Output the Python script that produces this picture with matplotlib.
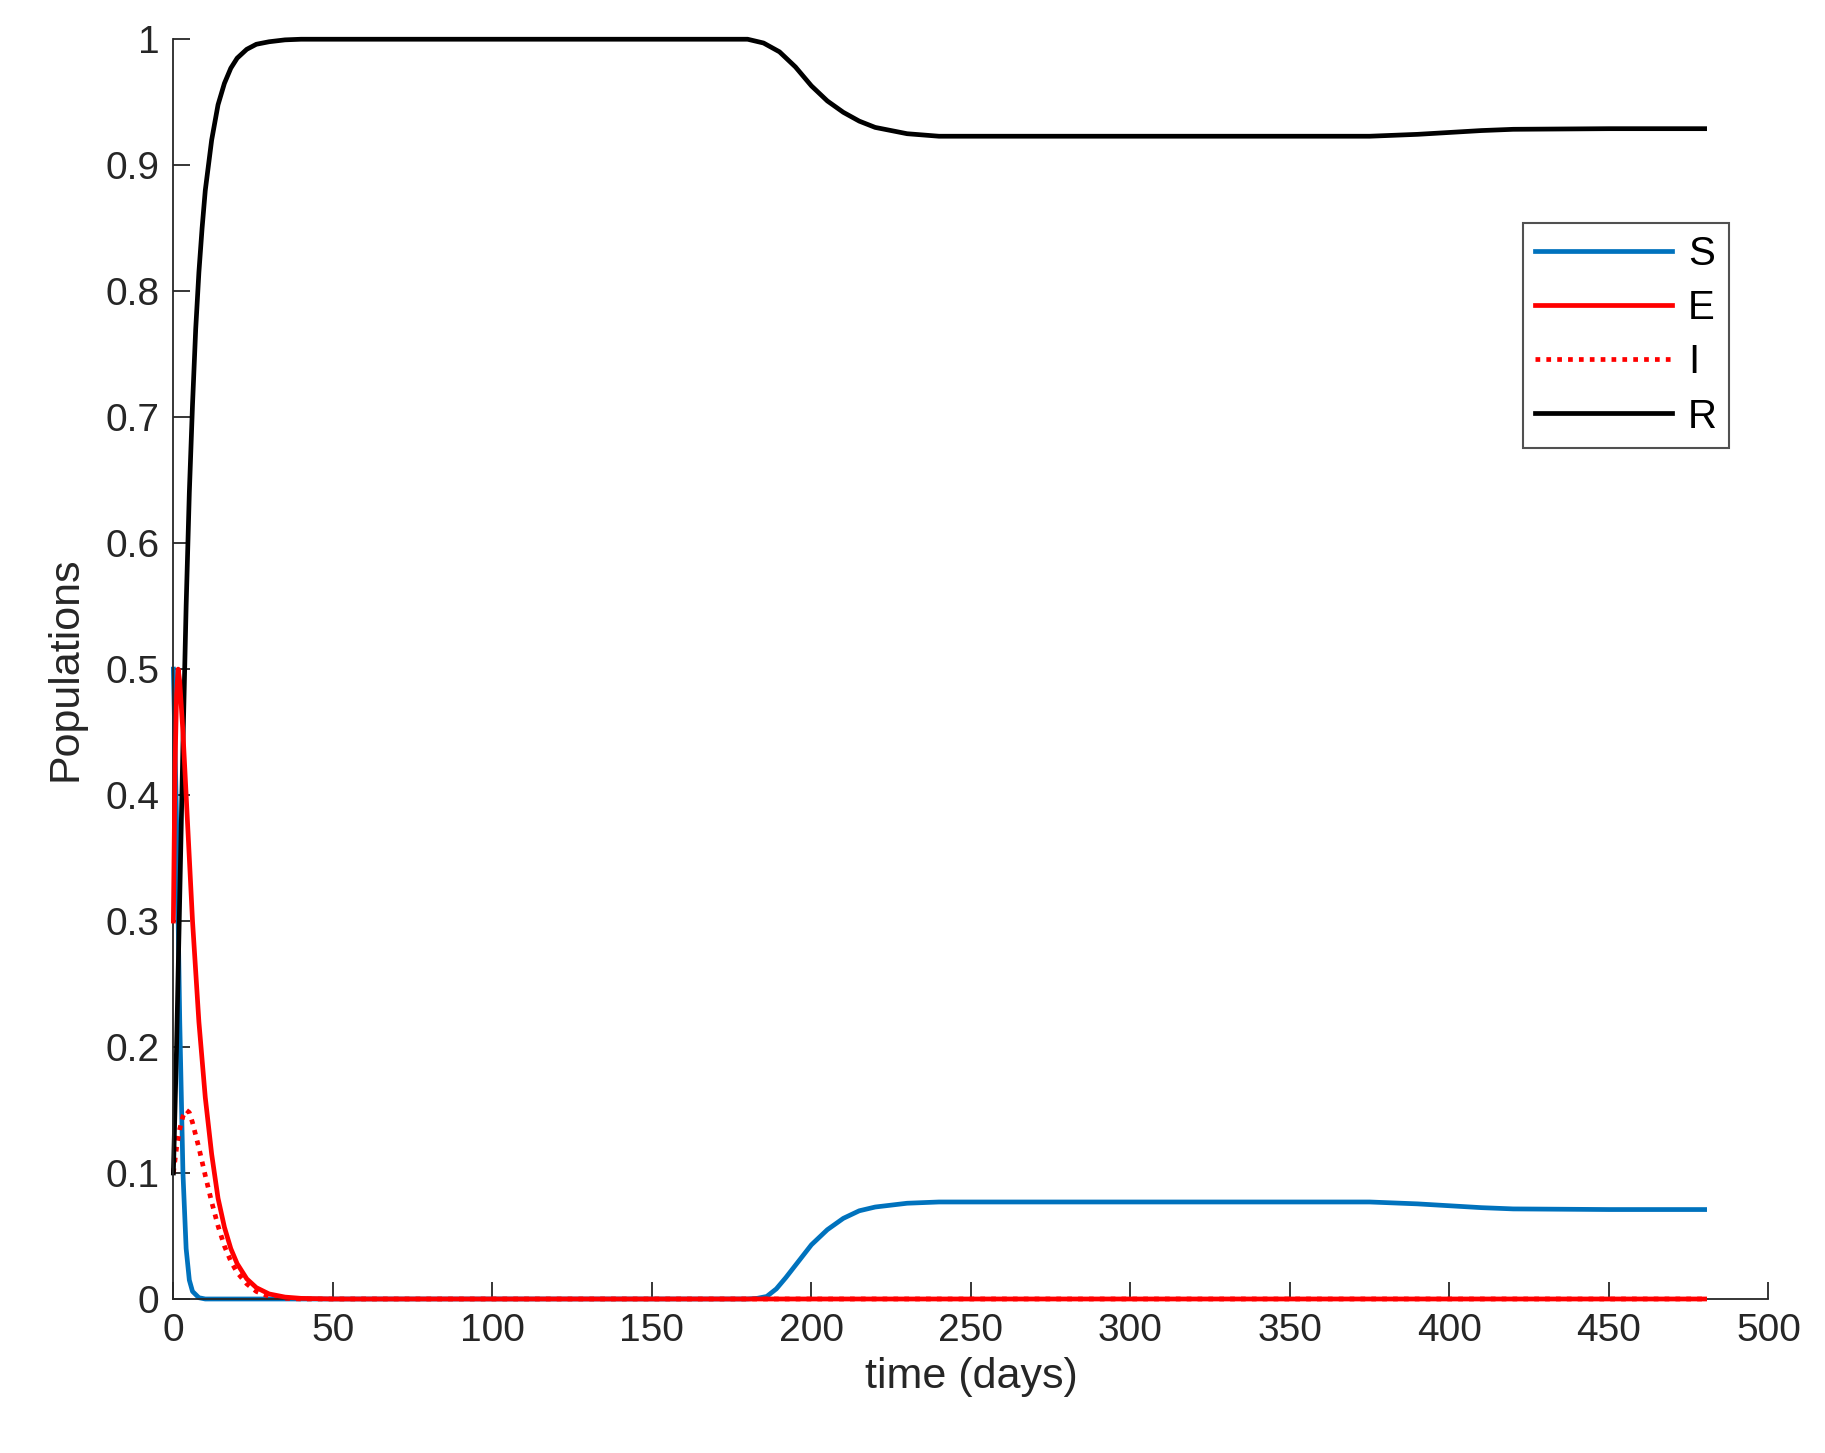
import matplotlib
matplotlib.use("Agg")
import matplotlib.pyplot as plt

t_S = [0, 1, 2, 3, 4, 5, 6, 8, 10, 180, 183, 186, 189, 192, 196, 200, 205, 210, 215, 220, 230, 240, 250, 300, 360, 375, 390, 400, 410, 420, 450, 480]
S = [0.5, 0.38, 0.22, 0.1, 0.04, 0.015, 0.006, 0.001, 0.0, 0.0, 0.0005, 0.002, 0.008, 0.017, 0.03, 0.043, 0.055, 0.064, 0.070, 0.073, 0.076, 0.077, 0.077, 0.077, 0.077, 0.077, 0.0755, 0.074, 0.0725, 0.0715, 0.071, 0.071]

t_E = [0, 0.5, 1, 1.5, 2, 3, 4, 5, 6, 7, 8, 10, 12, 14, 16, 18, 20, 23, 26, 30, 35, 40, 50, 480]
E = [0.3, 0.42, 0.48, 0.5, 0.49, 0.45, 0.4, 0.35, 0.3, 0.26, 0.22, 0.16, 0.115, 0.08, 0.057, 0.04, 0.028, 0.016, 0.009, 0.004, 0.0015, 0.0005, 0.0, 0.0]

t_I = [0, 1, 2, 3, 4, 5, 6, 8, 10, 12, 14, 16, 18, 20, 23, 26, 30, 35, 40, 480]
I = [0.1, 0.12, 0.135, 0.145, 0.15, 0.148, 0.14, 0.12, 0.098, 0.077, 0.058, 0.042, 0.03, 0.021, 0.012, 0.006, 0.002, 0.0005, 0.0, 0.0]

t_R = [0, 1, 2, 3, 4, 5, 6, 7, 8, 9, 10, 12, 14, 16, 18, 20, 23, 26, 30, 35, 40, 50, 180, 185, 190, 195, 200, 205, 210, 215, 220, 230, 240, 250, 300, 360, 375, 390, 400, 410, 420, 450, 480]
R = [0.1, 0.2, 0.32, 0.44, 0.55, 0.64, 0.71, 0.77, 0.815, 0.85, 0.88, 0.92, 0.948, 0.965, 0.977, 0.985, 0.992, 0.996, 0.998, 0.9995, 1.0, 1.0, 1.0, 0.997, 0.99, 0.978, 0.963, 0.951, 0.942, 0.935, 0.93, 0.925, 0.923, 0.923, 0.923, 0.923, 0.923, 0.9245, 0.926, 0.9275, 0.9285, 0.929, 0.929]

labels = ["S", "E", "I", "R"]
xticks = [0, 50, 100, 150, 200, 250, 300, 350, 400, 450, 500]
yticks = [0, 0.1, 0.2, 0.3, 0.4, 0.5, 0.6, 0.7, 0.8, 0.9, 1]

plt.rcParams['font.family'] = ['Liberation Sans', 'DejaVu Sans']
fig = plt.figure(figsize=(18.25, 14.53), dpi=100)
ax = fig.add_axes([0.095, 0.106, 0.874, 0.867])
lw = 3.4
ax.plot(t_S, S, color='#0072BD', lw=lw, label=labels[0], clip_on=False)
ax.plot(t_E, E, color='#FF0000', lw=lw, label=labels[1], clip_on=False, zorder=3)
ax.plot(t_I, I, color='#FF0000', lw=lw, ls=(0, (1, 1.3)), label=labels[2], clip_on=False)
ax.plot(t_R, R, color='#000000', lw=lw, label=labels[3], clip_on=False)
ax.set_xlim(0, 500)
ax.set_ylim(0, 1)
ax.set_xticks(xticks)
ax.set_xticklabels([str(v) for v in xticks])
ax.set_yticks(yticks)
ax.set_yticklabels(["0", "0.1", "0.2", "0.3", "0.4", "0.5", "0.6", "0.7", "0.8", "0.9", "1"])
for s in ['top', 'right']:
    ax.spines[s].set_visible(False)
for s in ['left', 'bottom']:
    ax.spines[s].set_color('#262626')
    ax.spines[s].set_linewidth(1.3)
ax.tick_params(labelsize=28, colors='#262626', length=12, width=1.3, direction='in', pad=10)
ax.set_xlabel("time (days)", fontsize=31, color='#262626', labelpad=6)
ax.set_ylabel("Populations", fontsize=31, color='#262626', labelpad=14)
leg = ax.legend(loc='upper right', bbox_to_anchor=(0.988, 0.87), fontsize=29, frameon=True,
                fancybox=False, edgecolor='#262626', handlelength=3.4,
                borderpad=0.3, labelspacing=0.4, handletextpad=0.4)
leg.get_frame().set_linewidth(1.5)
fig.savefig("out.png")
